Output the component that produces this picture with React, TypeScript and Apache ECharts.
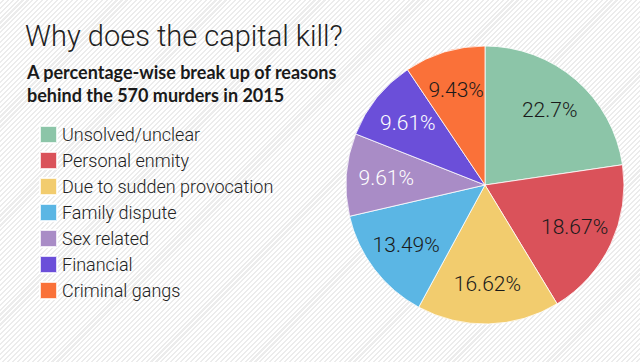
import React, { useEffect, useRef } from "react";
import * as echarts from "echarts";

const categories = [
  "Unsolved/unclear",
  "Personal enmity",
  "Due to sudden provocation",
  "Family dispute",
  "Sex related",
  "Financial",
  "Criminal gangs",
];
const values = [22.7, 18.67, 16.62, 13.49, 9.61, 9.61, 9.43];
const colors = ["#8cc5a8", "#da525a", "#f2cc6e", "#5bb6e4", "#a98cc6", "#6b4fd9", "#fa7139"];
const labelColors = ["#1a1a1a", "#1a1a1a", "#1a1a1a", "#1a1a1a", "#ffffff", "#ffffff", "#1a1a1a"];

const titleText = "Why does the capital kill?";
const subtitleText = "A percentage-wise break up of reasons\nbehind the 570 murders in 2015";

export default function App() {
  const ref = useRef<HTMLDivElement>(null);
  useEffect(() => {
    if (!ref.current) return;
    const chart = echarts.init(ref.current, null, { renderer: "svg" });
    const FONT = "Roboto, 'Noto Sans', sans-serif";
    chart.setOption({
      animation: false,
      backgroundColor: "transparent",
      title: [
        {
          text: titleText,
          left: 20,
          top: 16,
          textStyle: { fontFamily: FONT, fontWeight: 300, fontSize: 29, color: "#222" },
        },
        {
          text: subtitleText,
          left: 22,
          top: 55,
          textStyle: { fontFamily: "Lato, sans-serif", fontWeight: "bold", fontSize: 18, color: "#1a1a1a", lineHeight: 23 },
        },
      ],
      legend: {
        orient: "vertical",
        left: 34,
        top: 120,
        icon: "rect",
        itemWidth: 17,
        itemHeight: 17,
        itemGap: 7,
        selectedMode: false,
        data: categories,
        textStyle: { fontFamily: FONT, fontWeight: 300, fontSize: 18, lineHeight: 18, color: "#222" },
      },
      series: [
        {
          type: "pie",
          center: [485, 185],
          radius: [0, 139],
          startAngle: 90,
          clockwise: true,
          label: { show: false },
          labelLine: { show: false },
          emphasis: { disabled: true },
          itemStyle: { borderColor: "rgba(255,255,255,0.8)", borderWidth: 1 },
          data: categories.map((name, i) => ({ name, value: values[i], itemStyle: { color: colors[i] } })),
        },
        {
          type: "pie",
          center: [485, 185],
          radius: [0, 192],
          startAngle: 90,
          clockwise: true,
          silent: true,
          legendHoverLink: false,
          labelLine: { show: false },
          emphasis: { disabled: true },
          itemStyle: { color: "transparent", borderWidth: 0 },
          label: {
            show: true,
            position: "inside",
            fontFamily: FONT,
            fontWeight: 300,
            fontSize: 21,
            formatter: (p: any) => p.value + "%",
          },
          data: categories.map((name, i) => ({
            name,
            value: values[i],
            itemStyle: { color: "transparent" },
            label: { color: labelColors[i] },
          })),
        },
      ],
    });
    return () => chart.dispose();
  }, []);
  return (
    <div
      ref={ref}
      style={{
        position: "fixed",
        top: 0,
        left: 0,
        width: 640,
        height: 362,
        background:
          "repeating-linear-gradient(-45deg, #ffffff 0px, #ffffff 2px, #ececec 2px, #ececec 3.5px)",
      }}
    />
  );
}
